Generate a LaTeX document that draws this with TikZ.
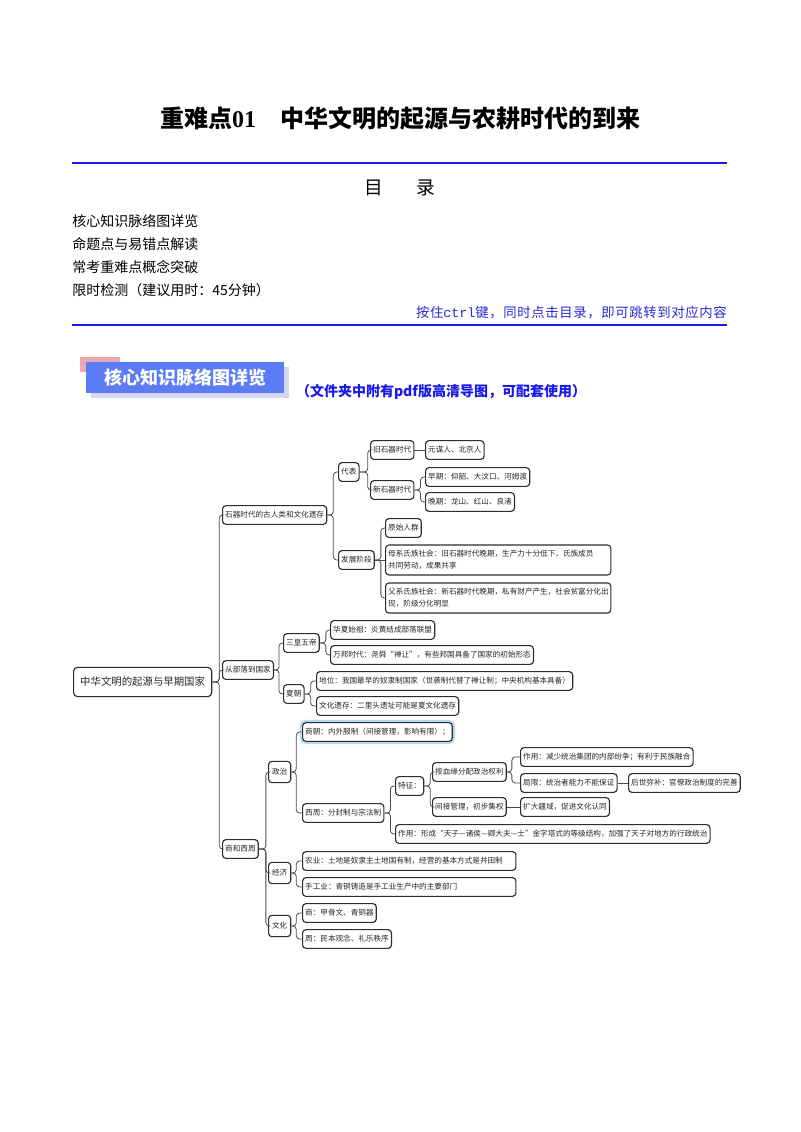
\documentclass[tikz,border=0pt]{standalone}
\usepackage{fontspec}
\setmainfont{Noto Sans CJK SC}
\newfontfamily\numfont{Liberation Serif}
\newfontfamily\keyfont{Liberation Mono}
\newfontfamily\hintfont{Noto Sans CJK SC}[LetterSpace=5]
\usetikzlibrary{positioning, backgrounds, fit}

\definecolor{ruleblue}{RGB}{25,25,235}
\definecolor{hintblue}{RGB}{40,40,215}
\definecolor{bannerblue}{RGB}{92,124,245}
\definecolor{bannershade}{RGB}{212,215,242}
\definecolor{bannerpink}{RGB}{236,168,178}
\definecolor{boxgray}{RGB}{45,45,45}
\definecolor{linkgray}{RGB}{75,75,75}
\definecolor{glowblue}{RGB}{178,218,240}

\begin{document}
\begin{tikzpicture}[
    x=0.75pt, y=-0.75pt,
    box/.style={draw=boxgray, line width=0.85pt, rounded corners=2.5pt, fill=white, anchor=west,
        inner xsep=2pt, inner ysep=1pt, minimum height=14pt, text=black!85,
        font=\fontsize{5.7}{7.4}\selectfont},
    rootbox/.style={box, font=\fontsize{7.8}{9}\selectfont, minimum height=22pt, inner xsep=5pt, rounded corners=3pt},
    catbox/.style={box, minimum height=16pt, inner xsep=2.6pt},
    twoline/.style={box, align=left, text width=165pt, inner ysep=4pt, font=\fontsize{5.7}{9}\selectfont},
    longbox/.style={box, align=left, text width=156pt},
    link/.style={draw=linkgray, line width=0.6pt, rounded corners=2.5pt},
    rulebar/.style={draw=ruleblue, line width=1.8pt}
]
\useasboundingbox (0,0) rectangle (800,1132);

% Header
\node[font=\fontsize{18}{20}\selectfont\bfseries] (title) at (400,118) {重难点{\numfont 01}\quad 中华文明的起源与农耕时代的到来};
\draw[rulebar] (72,163) -- (727,163);
\node[font=\fontsize{14}{16}\selectfont] (toc) at (400,188) {目\hspace{1.8em}录};
\node[anchor=west, inner sep=0, font=\fontsize{10.5}{12}\selectfont] (toc1) at (72,221) {核心知识脉络图详览};
\node[anchor=west, inner sep=0, font=\fontsize{10.5}{12}\selectfont] (toc2) at (72,244) {命题点与易错点解读};
\node[anchor=west, inner sep=0, font=\fontsize{10.5}{12}\selectfont] (toc3) at (72,267) {常考重难点概念突破};
\node[anchor=west, inner sep=0, font=\fontsize{10.5}{12}\selectfont] (toc4) at (72,290) {限时检测（建议用时：45分钟）};
\node[anchor=east, inner sep=0, text=hintblue, font=\hintfont\fontsize{10}{12}\selectfont] (hint) at (727,313) {按住{\keyfont ctrl}键，同时点击目录，即可跳转到对应内容};
\draw[rulebar] (72,325) -- (727,325);

% Banner
\fill[bannerpink] (80,357) rectangle (120,372);
\fill[bannershade] (91,367) rectangle (289,398);
\node[fill=bannerblue, text=white, anchor=north west, inner sep=0, minimum width=148.5pt, minimum height=23.3pt,
    font=\fontsize{13.5}{15}\selectfont\bfseries] (banner) at (86,362) {核心知识脉络图详览};
\node[text=ruleblue, font=\fontsize{10.5}{12}\selectfont\bfseries] (note) at (441,392) {（文件夹中附有pdf版高清导图，可配套使用）};

% Nodes
\node[rootbox] (root) at (73,682) {中华文明的起源与早期国家};

\node[box] (s1) at (222,515) {石器时代的古人类和文化遗存};
\node[box] (s2) at (222,670) {从部落到国家};
\node[box] (s3) at (222,849) {商和西周};

\node[box] (a1) at (338,472) {代表};
\node[box] (a2) at (338,560) {发展阶段};
\node[box] (b1) at (370,450) {旧石器时代};
\node[box] (b2) at (370,490) {新石器时代};
\node[box] (c1) at (425,450) {元谋人、北京人};
\node[box] (c2) at (425,477) {早期：仰韶、大汶口、河姆渡};
\node[box] (c3) at (425,502) {晚期：龙山、红山、良渚};
\node[box] (b3) at (385,528) {原始人群};
\node[twoline] (b4) at (385,560) {母系氏族社会：旧石器时代晚期，生产力十分低下，氏族成员\\共同劳动，成果共享};
\node[twoline] (b5) at (385,598) {父系氏族社会：新石器时代晚期，私有财产产生，社会贫富分化出\\现，阶级分化明显};

\node[box] (d1) at (283,643) {三皇五帝};
\node[box] (d2) at (283,694) {夏朝};
\node[box] (e1) at (330,630) {华夏始祖：炎黄结成部落联盟};
\node[box] (e2) at (330,655) {万邦时代：尧舜“禅让”，有些邦国具备了国家的初始形态};
\node[box] (e3) at (316,681) {地位：我国最早的奴隶制国家（世袭制代替了禅让制；中央机构基本具备）};
\node[box] (e4) at (316,706) {文化遗存：二里头遗址可能是夏文化遗存};

\node[catbox] (f1) at (268,772) {政治};
\node[catbox] (f2) at (268,873) {经济};
\node[catbox] (f3) at (268,926) {文化};
\node[box] (g1) at (302,732) {商朝：内外服制（间接管理，影响有限）；};
\node[box] (g2) at (302,813) {西周：分封制与宗法制};
\node[box] (h1) at (395,786) {特征：};
\node[box] (h2) at (395,834) {作用：形成“天子—诸侯—卿大夫—士”金字塔式的等级结构，加强了天子对地方的行政统治};
\node[box] (i1) at (432,772) {按血缘分配政治权利};
\node[box] (i2) at (432,807) {间接管理，初步集权};
\node[box] (j1) at (520,757) {作用：减少统治集团的内部纷争；有利于民族融合};
\node[box] (j2) at (520,783) {局限：统治者能力不能保证};
\node[box] (k1) at (628,783) {后世弥补：官僚政治制度的完善};
\node[box] (j3) at (520,807) {扩大疆域，促进文化认同};
\node[longbox] (g3) at (302,861) {农业：土地是奴隶主土地国有制，经营的基本方式是井田制};
\node[longbox] (g4) at (302,887) {手工业：青铜铸造是手工业生产中的主要部门};
\node[box] (g5) at (302,913) {商：甲骨文、青铜器};
\node[box] (g6) at (302,939) {周：民本观念、礼乐秩序};

% Glow round the selected topic
\begin{scope}[on background layer]
\node[draw=glowblue, line width=1.4pt, rounded corners=3.5pt, fit=(g1), inner sep=0.9pt] (g1glow) {};
\end{scope}

% Links from the root
\draw[link] (root.east) -- ++(7,0) |- (s1.west);
\draw[link] (root.east) -- ++(7,0) |- (s2.west);
\draw[link] (root.east) -- ++(7,0) |- (s3.west);

% Links for the stone age
\draw[link] (s1.east) -- ++(6,0) |- (a1.west);
\draw[link] (s1.east) -- ++(6,0) |- (a2.west);
\draw[link] (a1.east) -- ++(8,0) |- (b1.west);
\draw[link] (a1.east) -- ++(8,0) |- (b2.west);
\draw[link] (b1.east) -- (c1.west);
\draw[link] (b2.east) -- ++(6,0) |- (c2.west);
\draw[link] (b2.east) -- ++(6,0) |- (c3.west);
\draw[link] (a2.east) -- ++(6,0) |- (b3.west);
\draw[link] (a2.east) -- (b4.west);
\draw[link] (a2.east) -- ++(6,0) |- (b5.west);

% Links for tribes to state
\draw[link] (s2.east) -- ++(5,0) |- (d1.west);
\draw[link] (s2.east) -- ++(5,0) |- (d2.west);
\draw[link] (d1.east) -- ++(6,0) |- (e1.west);
\draw[link] (d1.east) -- ++(6,0) |- (e2.west);
\draw[link] (d2.east) -- ++(6,0) |- (e3.west);
\draw[link] (d2.east) -- ++(6,0) |- (e4.west);

% Links for Shang and Western Zhou
\draw[link] (s3.east) -- ++(7,0) |- (f1.west);
\draw[link] (s3.east) -- ++(7,0) |- (f2.west);
\draw[link] (s3.east) -- ++(7,0) |- (f3.west);
\draw[link] (f1.east) -- ++(5,0) |- (g1.west);
\draw[link] (f1.east) -- ++(5,0) |- (g2.west);
\draw[link] (g2.east) -- ++(6,0) |- (h1.west);
\draw[link] (g2.east) -- ++(6,0) |- (h2.west);
\draw[link] (h1.east) -- ++(6,0) |- (i1.west);
\draw[link] (h1.east) -- ++(6,0) |- (i2.west);
\draw[link] (i1.east) -- ++(5,0) |- (j1.west);
\draw[link] (i1.east) -- ++(5,0) |- (j2.west);
\draw[link] (j2.east) -- (k1.west);
\draw[link] (i2.east) -- (j3.west);
\draw[link] (f2.east) -- ++(5,0) |- (g3.west);
\draw[link] (f2.east) -- ++(5,0) |- (g4.west);
\draw[link] (f3.east) -- ++(5,0) |- (g5.west);
\draw[link] (f3.east) -- ++(5,0) |- (g6.west);

\end{tikzpicture}
\end{document}
